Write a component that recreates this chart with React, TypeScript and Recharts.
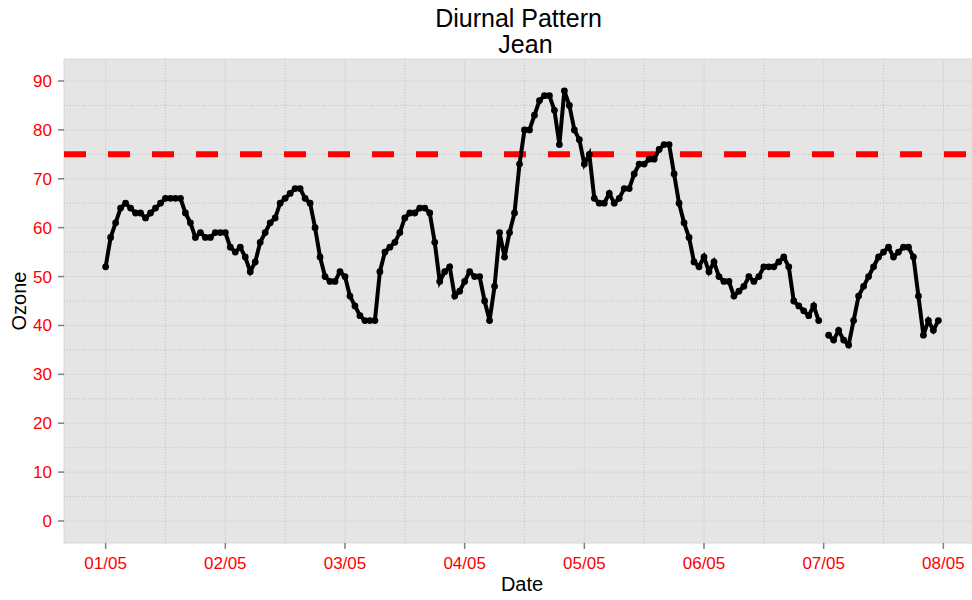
import React from "react";
import { LineChart, Line, XAxis, YAxis, CartesianGrid, ReferenceLine } from "recharts";

// hourly ozone readings, one array per day (01/05 .. 07/05)
const day1 = [52, 58, 61, 64, 65, 64, 63, 63, 62, 63, 64, 65, 66, 66, 66, 66, 63, 61, 58, 59, 58, 58, 59, 59];
const day2 = [59, 56, 55, 56, 54, 51, 53, 57, 59, 61, 62, 65, 66, 67, 68, 68, 66, 65, 60, 54, 50, 49, 49, 51];
const day3 = [50, 46, 44, 42, 41, 41, 41, 51, 55, 56, 57, 59, 62, 63, 63, 64, 64, 63, 57, 49, 51, 52, 46, 47];
const day4 = [49, 51, 50, 50, 45, 41, 48, 59, 54, 59, 63, 73, 80, 80, 83, 86, 87, 87, 84, 77, 88, 85, 80, 78];
const day5 = [73, 75, 66, 65, 65, 67, 65, 66, 68, 68, 71, 73, 73, 74, 74, 76, 77, 77, 71, 65, 61, 58, 53, 52];
const day6 = [54, 51, 53, 50, 49, 49, 46, 47, 48, 50, 49, 50, 52, 52, 52, 53, 54, 52, 45, 44, 43, 42, 44, 41];
const day7 = [null, 38, 37, 39, 37, 36, 41, 46, 48, 50, 52, 54, 55, 56, 54, 55, 56, 56, 54, 46, 38, 41, 39, 41];

const dayTicks = [0, 24, 48, 72, 96, 120, 144, 168];
const dayLabels = ["01/05", "02/05", "03/05", "04/05", "05/05", "06/05", "07/05", "08/05"];
const halfDayTicks = [12, 36, 60, 84, 108, 132, 156];
const yTicks = [0, 10, 20, 30, 40, 50, 60, 70, 80, 90];
const yMinorTicks = [5, 15, 25, 35, 45, 55, 65, 75, 85];
const threshold = 75;

const ozone = [...day1, ...day2, ...day3, ...day4, ...day5, ...day6, ...day7];
const data = ozone.map((v, i) => ({ hour: i, ozone: v }));

const FONT = "'Liberation Sans', Arial, sans-serif";
const minorStyle = { stroke: "#BEBEBE", strokeWidth: 1, strokeDasharray: "1 2" };
const titleStyle: React.CSSProperties = {
  position: "absolute", left: 0, width: 1044, fontSize: 25, lineHeight: "25px",
  textAlign: "center", whiteSpace: "pre", color: "#000",
};

export default function App() {
  return (
    <div
      style={{
        position: "absolute", left: 0, top: 0, width: 972, height: 600,
        overflow: "hidden", background: "#fff", fontFamily: FONT,
      }}
    >
      <div style={{ ...titleStyle, top: 6 }}>{"Diurnal Pattern "}</div>
      <div style={{ ...titleStyle, top: 32 }}>{" Jean"}</div>
      <LineChart width={980} height={600} data={data} margin={{ top: 59, right: 0, left: 0, bottom: 0 }}>
        <CartesianGrid fill="#E5E5E5" stroke="#D8D8D8" strokeWidth={1} />
        {yMinorTicks.map((v) => (
          <ReferenceLine key={"y" + v} y={v} {...minorStyle} zIndex={-50} />
        ))}
        {halfDayTicks.map((v) => (
          <ReferenceLine key={"x" + v} x={v} {...minorStyle} zIndex={-50} />
        ))}
        <XAxis
          dataKey="hour"
          type="number"
          domain={[-8.35, 175.35]}
          allowDataOverflow
          ticks={dayTicks}
          tickFormatter={(v) => dayLabels[dayTicks.indexOf(v)]}
          height={57}
          axisLine={false}
          tickSize={6}
          tickMargin={8}
          tickLine={{ stroke: "#7F7F7F", strokeWidth: 1.5 }}
          tick={{ fill: "#FF0000", fontSize: 17, fontFamily: FONT }}
          label={{ value: "Date", position: "insideBottom", offset: 9, fill: "#000", fontSize: 20, fontFamily: FONT }}
        />
        <YAxis
          type="number"
          domain={[-4.5, 94.5]}
          allowDataOverflow
          ticks={yTicks}
          width={64}
          axisLine={false}
          tickSize={6}
          tickMargin={6}
          tickLine={{ stroke: "#7F7F7F", strokeWidth: 1.5 }}
          tick={{ fill: "#FF0000", fontSize: 17, fontFamily: FONT }}
          label={{ value: "Ozone", angle: -90, position: "insideLeft", offset: 19, fill: "#000", fontSize: 20, fontFamily: FONT, style: { textAnchor: "middle" } }}
        />
        <ReferenceLine y={threshold} stroke="#FF0000" strokeWidth={6} strokeDasharray="22 22" zIndex={300} />
        <Line
          type="linear"
          dataKey="ozone"
          stroke="#000"
          strokeWidth={4}
          dot={{ r: 3.4, fill: "#000", stroke: "none" }}
          activeDot={false}
          isAnimationActive={false}
          connectNulls={false}
          zIndex={700}
        />
      </LineChart>
    </div>
  );
}
